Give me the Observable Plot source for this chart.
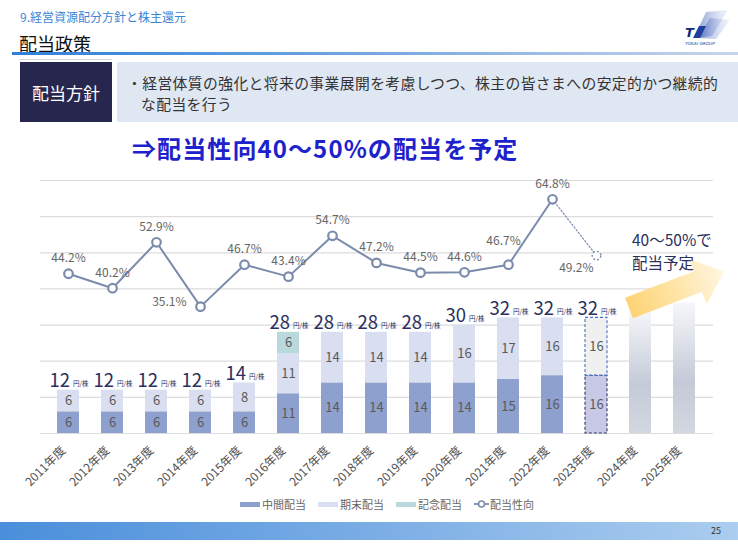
<!DOCTYPE html>
<html lang="ja">
<head>
<meta charset="utf-8">
<script src="https://cdn.jsdelivr.net/npm/d3@7"></script>
<script src="https://cdn.jsdelivr.net/npm/@observablehq/plot@0.6"></script>
<style>
  html, body { margin: 0; padding: 0; background: #fff; }
  body { width: 738px; height: 545px; position: relative; overflow: hidden;
         font-family: "Noto Sans CJK JP", "Noto Sans", sans-serif; }
  .abs { position: absolute; white-space: nowrap; }
  #section { left: 20px; top: 8px; font-size: 12px; color: #3a86d6; }
  #title { left: 19px; top: 30px; font-size: 18px; color: #111; }
  #rule { left: 12px; top: 52px; width: 726px; height: 3px;
          background: linear-gradient(90deg, #2f7fd8 0%, #6ea3df 45%, #c9d4ec 100%); }
  #policyHead { left: 20px; top: 62px; width: 92px; height: 60px; background: #26264f;
                color: #fff; font-size: 17px; display: flex; align-items: center; justify-content: center; }
  #policyBody { left: 117px; top: 62px; width: 621px; height: 60px; background: #dfe7f3;
                color: #333; font-size: 14.8px; line-height: 17px; letter-spacing: 0.4px; }
  #policyBody div { position: absolute; left: 10px; }
  #headline { left: 132px; top: 130px; font-size: 24px; font-weight: 700; color: #1d22cc; letter-spacing: 1.1px; }
  #chart { left: 0; top: 160px; }
  #overlay { left: 0; top: 0; pointer-events: none; }
  .note { left: 632px; font-size: 15.5px; line-height: 17px; color: #2b2f5e; }
  #legend { left: 0; top: 496px; width: 738px; height: 16px; font-size: 11px; color: #666; }
  #legend span.item { position: absolute; top: 0; display: flex; align-items: center; height: 16px; }
  #legend i { display: inline-block; width: 20px; height: 5px; margin-right: 2px; }
  #footer { left: 0; top: 522px; width: 738px; height: 18px;
            background: linear-gradient(90deg, #4a8fdb 0%, #7fb0e6 55%, #abcdef 100%); }
  #page { left: 711px; top: 524px; font-size: 9px; color: #333; }
</style>
</head>
<body>
<div class="abs" id="section">9.経営資源配分方針と株主還元</div>
<div class="abs" id="title">配当政策</div>
<div class="abs" id="rule"></div>
<svg class="abs" style="left:680px;top:8px" width="52" height="44" viewBox="0 0 52 44">
  <defs>
    <linearGradient id="logoBlue" x1="0" x2="1" y1="0" y2="0">
      <stop offset="0" stop-color="#1a3fa8"/><stop offset="1" stop-color="#b7c8ec" stop-opacity="0.4"/>
    </linearGradient>
  </defs>
  <polygon points="14,30 26,4 48,2 32,28" fill="url(#logoBlue)" opacity="0.55"/>
  <polygon points="18,30 30,10 50,12 36,31" fill="url(#logoBlue)" opacity="0.5"/>
  <polygon points="13,30 19,18 26,18 20,30" fill="#1f3f9e"/>
  <text x="5" y="29" font-size="13" font-weight="700" font-style="italic" fill="#13297a" font-family="DejaVu Sans">T</text>
  <text x="5" y="37" font-size="4.3" fill="#1a3a8e" font-family="DejaVu Sans" font-style="italic">TOKAI GROUP</text>
</svg>
<div class="abs" style="left:19px;top:59px;width:93px;height:1px;background:#d9d9d9"></div>
<div class="abs" id="policyHead">配当方針</div>
<div class="abs" id="policyBody">
  <div style="top:12px">・経営体質の強化と将来の事業展開を考慮しつつ、株主の皆さまへの安定的かつ継続的</div>
  <div style="top:33px;left:24px">な配当を行う</div>
</div>
<div class="abs" id="headline">⇒配当性向40～50%の配当を予定</div>
<div class="abs" id="chart"></div>
<svg class="abs" id="overlay" width="738" height="545">
  <defs>
    <linearGradient id="arrowFill" x1="0" x2="1" y1="0" y2="0">
      <stop offset="0" stop-color="#fdd474"/>
      <stop offset="0.55" stop-color="#fee6ad"/>
      <stop offset="1" stop-color="#fff6e2"/>
    </linearGradient>
  </defs>
  <polygon transform="translate(629,308) rotate(-21)"
           points="0,-11 74,-11 74,-24 102,0 74,24 74,11 0,11" fill="url(#arrowFill)"/>
</svg>
<div class="abs note" style="top:231px">40～50%で</div>
<div class="abs note" style="top:254px">配当予定</div>
<div class="abs" id="legend"></div>
<div class="abs" id="footer"></div>
<div class="abs" id="page">25</div>

<script>
// Fiscal years on the x axis
const fiscalYears = ["2011年度", "2012年度", "2013年度", "2014年度", "2015年度", "2016年度", "2017年度",
  "2018年度", "2019年度", "2020年度", "2021年度", "2022年度", "2023年度", "2024年度", "2025年度"];
// Dividend per share (円/株), 2011年度–2023年度
const interimDividend = [6, 6, 6, 6, 6, 11, 14, 14, 14, 14, 15, 16, 16];
const yearEndDividend = [6, 6, 6, 6, 8, 11, 14, 14, 14, 16, 17, 16, 16];
const commemorativeDividend = [0, 0, 0, 0, 0, 6, 0, 0, 0, 0, 0, 0, 0];
const totalDividend = [12, 12, 12, 12, 14, 28, 28, 28, 28, 30, 32, 32, 32];
// Payout ratio (%), 2011年度–2023年度 (2023年度 is the plan)
const payoutRatio = [44.2, 40.2, 52.9, 35.1, 46.7, 43.4, 54.7, 47.2, 44.5, 44.6, 46.7, 64.8, 49.2];
// Outlook columns for 2024年度 and 2025年度
const outlookYears = ["2024年度", "2025年度"];
const outlookLevel = [34, 36];
const planYear = "2023年度";
const gridTicks = [0, 10, 20, 30, 40, 50, 60, 70];
const seriesNames = ["中間配当", "期末配当", "記念配当", "配当性向"];
const unitLabel = "円/株";

const palette = {"中間配当": "#8ea0cd", "期末配当": "#d9dff0", "記念配当": "#b9d9dd"};
const planFill = {"中間配当": "#c9c9e7", "期末配当": "#f0f0f1"};
const planStroke = {"中間配当": "#2d3566", "期末配当": "#4670c8"};
const lineColor = "#7b8bab";
const inkColor = "#2b2f5e";

// Long table of stacked dividend segments
const segments = [];
interimDividend.forEach((v, i) => {
  const year = fiscalYears[i];
  segments.push({year, kind: seriesNames[0], value: v});
  segments.push({year, kind: seriesNames[1], value: yearEndDividend[i]});
  if (commemorativeDividend[i] > 0) segments.push({year, kind: seriesNames[2], value: commemorativeDividend[i]});
});
const actualSegments = segments.filter(d => d.year !== planYear);
const planSegments = segments.filter(d => d.year === planYear);
const totals = totalDividend.map((t, i) => ({year: fiscalYears[i], total: t}));
const outlook = outlookYears.map((year, i) => ({year, level: outlookLevel[i]}));
const ratios = payoutRatio.map((r, i) => ({year: fiscalYears[i], ratio: r}));
const actualRatios = ratios.filter(d => d.year !== planYear);
const planLink = ratios.slice(-2);

// Where each percentage label sits relative to its point
const sideLabels = {"2014年度": "left", "2021年度": "upperLeft", "2023年度": "lowerLeft"};
const pct = d => d.ratio.toFixed(1) + "%";
const labelStyle = {x: "year", y: "ratio", text: pct, fontSize: 12, fill: "#666"};

const gradientDefs = () => {
  const defs = d3.create("svg:defs");
  const g = defs.append("linearGradient").attr("id", "outlookFill")
    .attr("x1", 0).attr("x2", 0).attr("y1", 0).attr("y2", 1);
  g.append("stop").attr("offset", 0).attr("stop-color", "#f6f7fa");
  g.append("stop").attr("offset", 0.6).attr("stop-color", "#c4cad7");
  g.append("stop").attr("offset", 1).attr("stop-color", "#d3d7e0");
  return defs.node();
};

const chart = Plot.plot({
  width: 738,
  height: 340,
  marginLeft: 40,
  marginRight: 25,
  marginTop: 20,
  marginBottom: 67,
  style: {fontFamily: "'Noto Sans CJK JP', 'Noto Sans', sans-serif", color: "#505050", overflow: "visible", background: "transparent"},
  x: {domain: fiscalYears, paddingInner: 0.49, paddingOuter: 0.245, label: null},
  y: {domain: [0, 70], axis: null},
  color: {type: "identity"},
  marks: [
    gradientDefs,
    Plot.ruleY(gridTicks, {stroke: "#dcdcdc", strokeWidth: 1.2}),
    Plot.barY(actualSegments, Plot.stackY({x: "year", y: "value", fill: d => palette[d.kind], inset: 0})),
    Plot.barY(planSegments, Plot.stackY({x: "year", y: "value", fill: d => planFill[d.kind],
      stroke: d => planStroke[d.kind], strokeWidth: 1.1, strokeDasharray: "3,2", inset: 0})),
    Plot.barY(outlook, {x: "year", y: "level", fill: "url(#outlookFill)", inset: 0}),
    Plot.text(segments, Plot.stackY({x: "year", y: "value", text: "value", fontSize: 13, fill: "#5a5a5a"})),
    Plot.text(totals, {x: "year", y: "total", text: d => String(d.total), textAnchor: "end", lineAnchor: "bottom",
      dx: 1.5, dy: -3, fontSize: 18.5, fill: inkColor}),
    Plot.text(totals, {x: "year", y: "total", text: () => unitLabel, textAnchor: "start", lineAnchor: "bottom",
      dx: 4.5, dy: -4, fontSize: 6.5, fill: inkColor}),
    Plot.line(actualRatios, {x: "year", y: "ratio", stroke: lineColor, strokeWidth: 2}),
    Plot.line(planLink, {x: "year", y: "ratio", stroke: lineColor, strokeWidth: 1.2, strokeDasharray: "1.5,2"}),
    Plot.dot(actualRatios, {x: "year", y: "ratio", r: 4.3, fill: "#fff", stroke: lineColor, strokeWidth: 2.2}),
    Plot.dot(ratios.filter(d => d.year === planYear), {x: "year", y: "ratio", r: 4.3, fill: "#fff",
      stroke: lineColor, strokeWidth: 1.4, strokeDasharray: "2,2"}),
    Plot.text(ratios.filter(d => !sideLabels[d.year]), {...labelStyle, dy: -15.5}),
    Plot.text(ratios.filter(d => sideLabels[d.year] === "left"), {...labelStyle, textAnchor: "end", dx: -14, dy: -4}),
    Plot.text(ratios.filter(d => sideLabels[d.year] === "upperLeft"), {...labelStyle, dx: -5, dy: -24}),
    Plot.text(ratios.filter(d => sideLabels[d.year] === "lowerLeft"), {...labelStyle, textAnchor: "end", dx: -3, dy: 12}),
    Plot.axisX({tickRotate: -45, tickSize: 0, tickPadding: 8, fontSize: 12, fill: "#505050", dx: -5, dy: 7})
  ]
});
document.getElementById("chart").appendChild(chart);

// Legend below the chart
const legend = d3.select("#legend");
const legendX = [240, 318, 396, 474];
seriesNames.forEach((name, i) => {
  const item = legend.append("span").attr("class", "item").style("left", legendX[i] + "px");
  if (i < 3) {
    item.append("i").style("background", palette[name]);
  } else {
    const s = item.append("svg").attr("width", 15).attr("height", 10).style("margin-right", "1px");
    s.append("line").attr("x1", 0).attr("x2", 15).attr("y1", 5).attr("y2", 5)
      .attr("stroke", lineColor).attr("stroke-width", 1.8);
    s.append("circle").attr("cx", 7.5).attr("cy", 5).attr("r", 3)
      .attr("fill", "#fff").attr("stroke", lineColor).attr("stroke-width", 1.6);
  }
  item.append("span").text(name);
});
</script>
</body>
</html>
